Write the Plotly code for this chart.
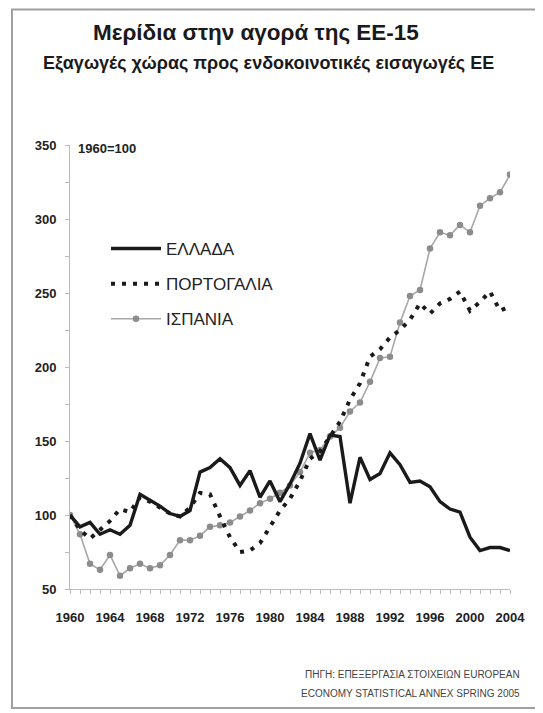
import plotly.graph_objects as go

years = list(range(1960, 2005))

greece = [100, 92, 95, 87, 90, 87, 93, 114, 110, 106, 101, 99, 103, 129, 132, 138,
          132, 120, 130, 112, 123, 109, 121, 135, 155, 137, 154, 153, 108, 139,
          124, 128, 142, 134, 122, 123, 119, 109, 104, 102, 85, 76, 78, 78, 76]

portugal = [100, 90, 84, 90, 96, 104, 102, 112, 109, 105, 101, 99, 105, 115, 114, 99,
            85, 75, 76, 81, 92, 103, 111, 123, 138, 143, 153, 163, 178, 189,
            207, 212, 220, 225, 232, 243, 236, 243, 246, 251, 238, 244, 251, 238, 241]

spain = [100, 87, 67, 63, 73, 59, 64, 67, 64, 66, 73, 83, 83, 86, 92, 93,
         95, 99, 103, 108, 111, 115, 120, 129, 142, 144, 153, 159, 170, 176,
         190, 206, 207, 230, 248, 252, 280, 291, 289, 296, 291, 309, 314, 318, 330]

names = ["ΕΛΛΑΔΑ", "ΠΟΡΤΟΓΑΛΙΑ", "ΙΣΠΑΝΙΑ"]
x_ticks = list(range(1960, 2005, 4))
y_ticks = list(range(50, 351, 50))

title = "Μερίδια στην αγορά της ΕΕ-15"
subtitle = "Εξαγωγές χώρας προς ενδοκοινοτικές εισαγωγές ΕΕ"
base_note = "1960=100"
source_lines = ["ΠΗΓΗ: ΕΠΕΞΕΡΓΑΣΙΑ ΣΤΟΙΧΕΙΩΝ EUROPEAN",
                "ECONOMY STATISTICAL ANNEX SPRING 2005"]

fig = go.Figure()
fig.add_trace(go.Scatter(x=years, y=spain, name=names[2], mode="lines+markers",
                         line=dict(color="#a8a8a8", width=1.6),
                         marker=dict(color="#8c8c8c", size=6.5,
                                     line=dict(color="#8c8c8c", width=0)),
                         legendgroup="c", legendrank=3))
fig.add_trace(go.Scatter(x=years, y=portugal, name=names[1], mode="lines",
                         line=dict(color="#1a1a1a", width=4, dash="4px,7px"),
                         legendgroup="b", legendrank=2))
fig.add_trace(go.Scatter(x=years, y=greece, name=names[0], mode="lines",
                         line=dict(color="#1a1a1a", width=3.4),
                         legendgroup="a", legendrank=1))

# page offset (default body margin of the html page)
O = 8
W, H = 543, 713
# desired page-pixel plot box: left 70, right 510, top 145, bottom 589
L, T = 70 - O, 145 - O
R = W - (510 - O)
B = H - (589 - O)
pw, ph = W - L - R, H - T - B

def px_x(p):
    return (p - O - L) / pw

def px_y(p):
    return (H - B - (p - O)) / ph

FONT = "Liberation Sans, Arial, sans-serif"
tickfont = dict(family=FONT, size=13, color="#222222", weight="bold")

fig.update_layout(
    width=W, height=H,
    margin=dict(l=L, r=R, t=T, b=B),
    paper_bgcolor="white", plot_bgcolor="white",
    showlegend=True,
    legend=dict(x=px_x(106), y=px_y(231), xanchor="left", yanchor="top",
                bgcolor="rgba(0,0,0,0)", tracegroupgap=10, itemwidth=50,
                font=dict(family=FONT, size=17, color="#222222")),
    xaxis=dict(range=[1960, 2004], tickmode="array", tickvals=x_ticks,
               showgrid=False, zeroline=False, showline=True, linecolor="#bbbbbb",
               linewidth=1, ticks="outside", ticklen=4, tickcolor="#bbbbbb",
               minor=dict(dtick=1, tick0=1960, ticks="outside", ticklen=4, tickcolor="#bbbbbb"),
               tickfont=tickfont, ticklabelstandoff=12),
    yaxis=dict(range=[50, 350], tickmode="array", tickvals=y_ticks,
               showgrid=False, zeroline=False, showline=True, linecolor="#bbbbbb",
               linewidth=1, ticks="outside", ticklen=4, tickcolor="#bbbbbb",
               minor=dict(dtick=25, tick0=50, ticks="outside", ticklen=4, tickcolor="#bbbbbb"),
               tickfont=tickfont, ticklabelstandoff=6),
)

fig.add_annotation(text="<b>" + title + "</b>", xref="paper", yref="paper",
                   x=px_x(256), y=px_y(32), xanchor="center", yanchor="middle",
                   showarrow=False,
                   font=dict(family=FONT, size=22.5, color="#1a1a1a"))
fig.add_annotation(text="<b>" + subtitle + "</b>", xref="paper", yref="paper",
                   x=px_x(268), y=px_y(63), xanchor="center", yanchor="middle",
                   showarrow=False,
                   font=dict(family=FONT, size=18, color="#1a1a1a"))
fig.add_annotation(text="<b>" + base_note + "</b>", xref="paper", yref="paper",
                   x=px_x(76), y=px_y(148), xanchor="left", yanchor="middle",
                   showarrow=False,
                   font=dict(family=FONT, size=13, color="#222222"))
for line, yy in zip(source_lines, [674, 693]):
    fig.add_annotation(text=line, xref="paper", yref="paper",
                       x=px_x(522), y=px_y(yy), xanchor="right", yanchor="middle",
                       showarrow=False,
                       font=dict(family=FONT, size=10, color="#444444"))

fig.add_shape(type="rect", xref="paper", yref="paper",
              x0=px_x(12), x1=px_x(537), y0=px_y(708), y1=px_y(9.5),
              line=dict(color="#a0a0a0", width=2), fillcolor="rgba(0,0,0,0)", layer="below")

fig.write_html("out.html")
